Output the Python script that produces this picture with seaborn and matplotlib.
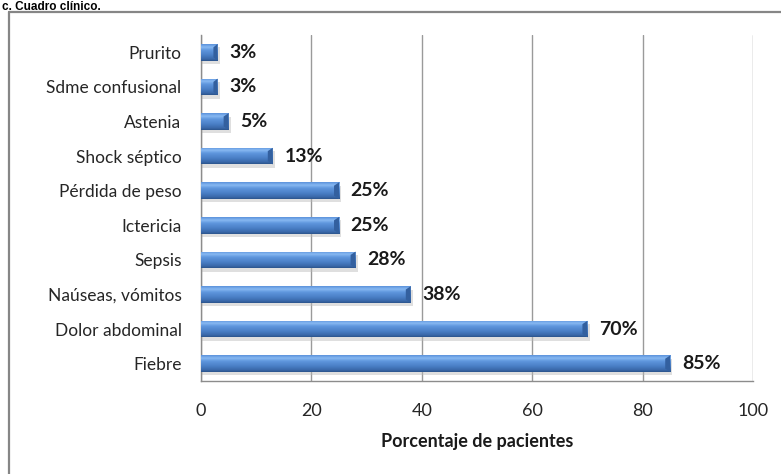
import numpy as np
import pandas as pd
import matplotlib
matplotlib.use("Agg")
import matplotlib.pyplot as plt
from matplotlib.colors import LinearSegmentedColormap
from matplotlib.lines import Line2D
from matplotlib.patches import Rectangle, Polygon
import seaborn as sns

# Clinical presentation data
sintomas = ["Prurito", "Sdme confusional", "Astenia", "Shock séptico",
            "Pérdida de peso", "Ictericia", "Sepsis", "Naúseas, vómitos",
            "Dolor abdominal", "Fiebre"]
porcentajes = [3, 3, 5, 13, 25, 25, 28, 38, 70, 85]
x_ticks = [0, 20, 40, 60, 80, 100]

df = pd.DataFrame({"sintoma": sintomas, "pct": porcentajes})

sns.set_theme(style="white")
plt.rcParams["font.family"] = ["Lato", "DejaVu Sans"]

W, H = 781, 474
fig = plt.figure(figsize=(W / 100, H / 100), dpi=100)
ax = fig.add_axes([201 / W, (H - 381) / H, (753 - 201) / W, (381 - 35) / H])

bar_h = 0.48
sns.barplot(data=df, y="sintoma", x="pct", orient="h", ax=ax,
            color="#4f81bd", width=bar_h, order=sintomas, zorder=3)

# Cylinder-like shading for each bar
shade = LinearSegmentedColormap.from_list(
    "bar_shade",
    [(0.0, "#5b92dc"), (0.18, "#88b9f2"), (0.35, "#5f97de"),
     (0.65, "#4a7fc6"), (0.88, "#3a69aa"), (1.0, "#2c548c")])
grad = np.linspace(0, 1, 64).reshape(-1, 1)

for patch in list(ax.patches):
    x0, y0 = patch.get_x(), patch.get_y()
    w, h = patch.get_width(), patch.get_height()
    x1, y1 = x0 + w, y0 + h
    # soft drop shadow under the bar
    ax.add_patch(Rectangle((x0, y0 + 0.1), w + 0.4, h, color="#b8b8b8",
                           alpha=0.45, lw=0, zorder=2))
    img = ax.imshow(grad, cmap=shade, extent=(x0, x1, y1, y0),
                    aspect="auto", zorder=4, interpolation="bilinear")
    img.set_clip_path(patch)
    # bevelled end cap
    cap = min(0.9, w * 0.25)
    ax.add_patch(Polygon([(x1 - cap, y0 + h * 0.2), (x1, y0), (x1, y1),
                          (x1 - cap, y1 - h * 0.2)],
                         closed=True, color="#33609f", lw=0, zorder=5))
    patch.set_visible(False)

# value labels
for i, v in enumerate(porcentajes):
    ax.text(v + 2.1, i, f"{v}%", va="center", ha="left",
            fontsize=14, fontweight="bold", color="#1a1a1a", zorder=6)

ax.set_xlim(0, 100)
ax.set_ylim(len(sintomas) - 0.5, -0.5)
ax.set_xticks(x_ticks)
ax.set_xticklabels([str(t) for t in x_ticks])
ax.xaxis.grid(True, color="#9a9a9a", lw=1.0, zorder=0)
ax.yaxis.grid(False)
ax.set_axisbelow(True)

for side in ["top", "right"]:
    ax.spines[side].set_visible(False)
for side in ["left", "bottom"]:
    ax.spines[side].set_color("#8c8c8c")
    ax.spines[side].set_linewidth(1.0)

ax.tick_params(axis="y", length=0, pad=14, labelsize=12.5, labelcolor="#262626")
ax.tick_params(axis="x", length=0, pad=16, labelsize=13, labelcolor="#262626")
ax.set_ylabel("")
ax.set_xlabel("Porcentaje de pacientes", fontsize=13, fontweight="bold",
              color="#1a1a1a", labelpad=10)

# outer chart frame (left and top edges)
frame_c = "#868686"
fig.add_artist(Line2D([8.5 / W, 8.5 / W], [0, 1 - 11.5 / H],
                      transform=fig.transFigure, color=frame_c, lw=1.6))
fig.add_artist(Line2D([8.5 / W, 1], [1 - 11.5 / H, 1 - 11.5 / H],
                      transform=fig.transFigure, color=frame_c, lw=1.6))

fig.text(0.002, 1 - 9.5 / H, "c. Cuadro clínico.", fontsize=8.5, fontweight="bold",
         family=["Liberation Sans", "DejaVu Sans"], va="baseline", ha="left",
         color="#000000")

fig.savefig("out.png", dpi=100)
